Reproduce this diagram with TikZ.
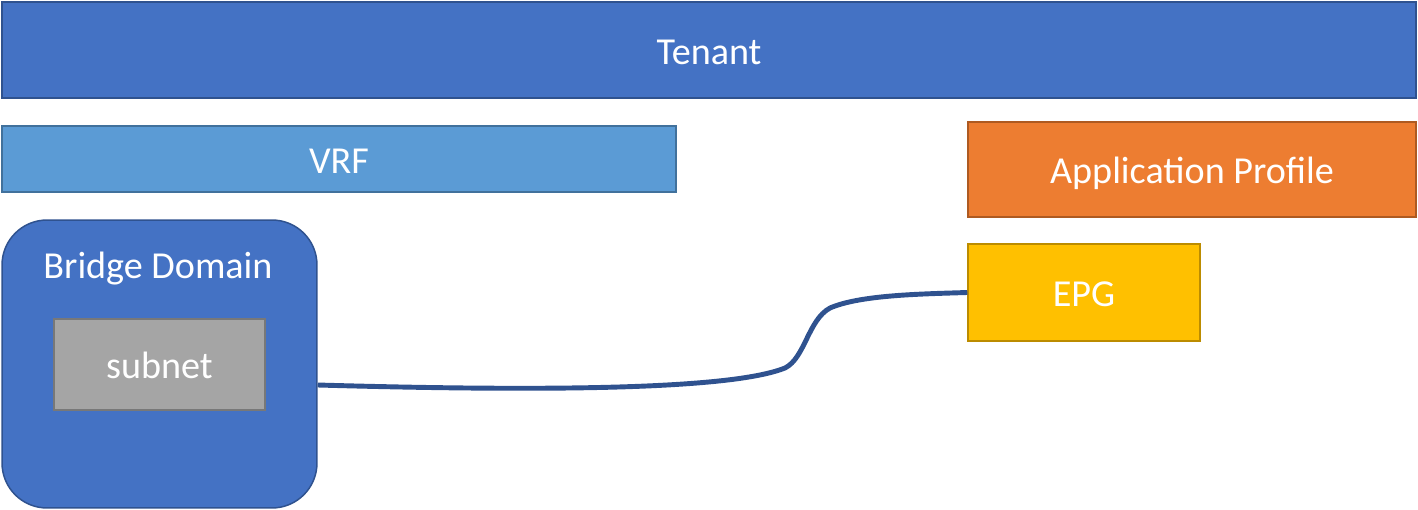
\documentclass[tikz,border=0pt]{standalone}
\usepackage{fontspec}
\setmainfont{Carlito}
\usepackage{tikz}
\usetikzlibrary{calc}
\definecolor{aciblue}{RGB}{68, 114, 196}
\definecolor{acibluedark}{RGB}{47, 82, 143}
\definecolor{acilight}{RGB}{91, 155, 213}
\definecolor{acilightdark}{RGB}{65, 113, 156}
\definecolor{aciorange}{RGB}{237, 125, 49}
\definecolor{aciorangedark}{RGB}{174, 90, 33}
\definecolor{aciyellow}{RGB}{255, 192, 0}
\definecolor{aciyellowdark}{RGB}{188, 140, 0}
\definecolor{acigray}{RGB}{165, 165, 165}
\definecolor{acigraydark}{RGB}{120, 120, 120}

\begin{document}
\begin{tikzpicture}[x=0.02cm, y=-0.02cm,
  caption/.style={text=white, inner sep=0pt, text height=20pt, text depth=3.74pt,
    font=\fontsize{21.7}{26}\selectfont},
  block/.style={caption, draw, line width=0.85pt},
  link/.style={line width=2.8pt, acibluedark}]
\useasboundingbox (0,0) rectangle (1418,510);

% Tenant and its children
\node[block, fill=aciblue, draw=acibluedark, minimum width=28.28cm, minimum height=1.92cm]
  (tenant) at (709,50) {Tenant};
\node[block, fill=acilight, draw=acilightdark, minimum width=13.48cm, minimum height=1.32cm]
  (vrf) at (339,159) {VRF};
\node[block, fill=aciorange, draw=aciorangedark, minimum width=8.96cm, minimum height=1.9cm]
  (ap) at (1192,169.5) {Application Profile};
\node[block, fill=aciyellow, draw=aciyellowdark, minimum width=4.64cm, minimum height=1.94cm]
  (epg) at (1084,292.5) {EPG};

% Bridge domain with subnet
\node[block, fill=aciblue, draw=acibluedark, rounded corners=0.9cm,
  minimum width=6.3cm, minimum height=5.76cm] (bd) at (159.5,364) {};
\node[caption] (bdlabel) at (158,264) {Bridge Domain};
\node[block, fill=acigray, draw=acigraydark, minimum width=4.22cm, minimum height=1.82cm]
  (subnet) at (159.5,364.5) {subnet};

% Association BD -- EPG
\coordinate (bdout) at ($(bd.east)+(0,21)$);
\draw[link] (bdout) .. controls (600,393) and (740,386) .. (785,368)
  .. controls (805,358) and (808,320) .. (830,308)
  .. controls (860,295) and (920,294) .. (epg.west);
\end{tikzpicture}
\end{document}
